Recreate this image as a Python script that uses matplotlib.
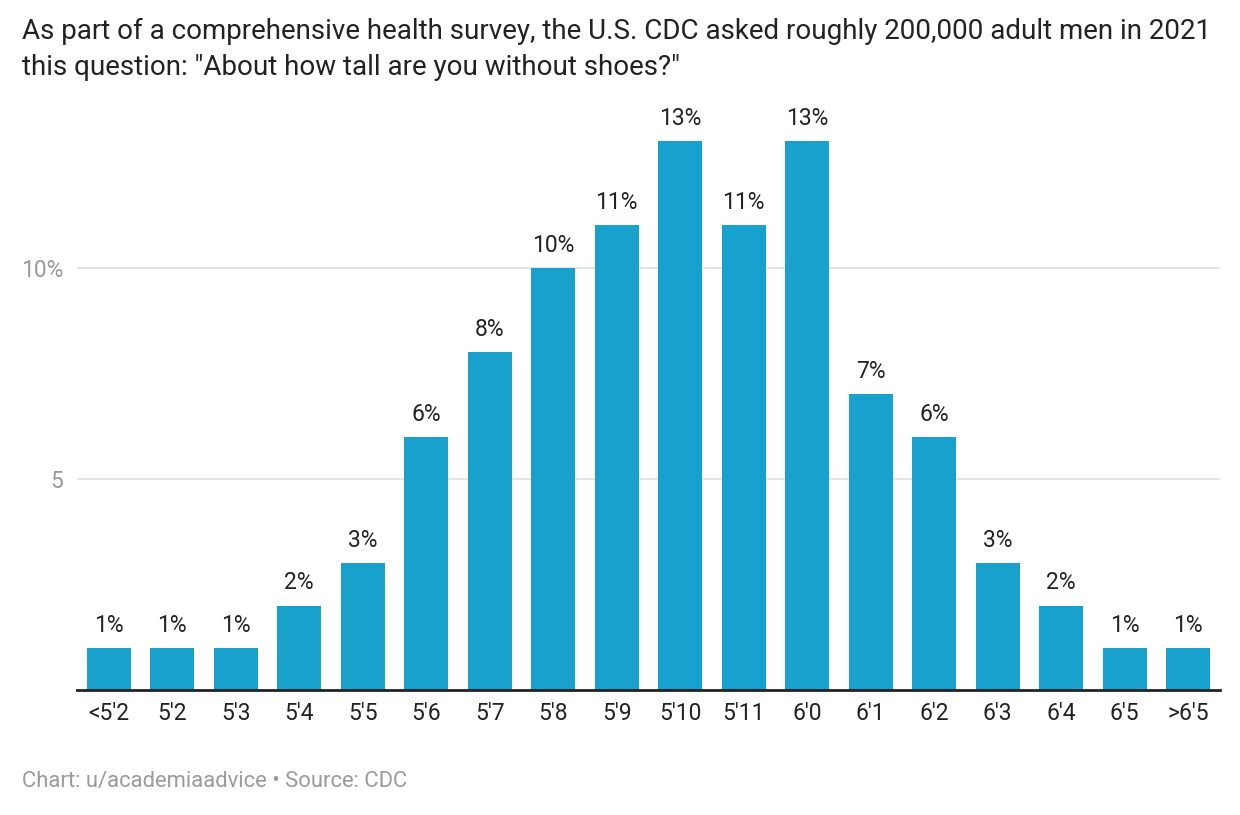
import matplotlib; matplotlib.use("Agg")
import matplotlib.pyplot as plt
import numpy as np

heights=["<5'2","5'2","5'3","5'4","5'5","5'6","5'7","5'8","5'9","5'10","5'11","6'0","6'1","6'2","6'3","6'4","6'5",">6'5"]
share=[1,1,1,2,3,6,8,10,11,13,11,13,7,6,3,2,1,1]
yticks=[5,10]; ytick_labels=["5","10%"]

plt.rcParams["font.family"]=["Roboto","DejaVu Sans"]
BLUE="#19a1cd"; GREY="#9a9a9a"

fig=plt.figure(figsize=(12.4,8.15),dpi=100)
ax=fig.add_axes([77/1240,125/815,1143/1240,587/815])
x=np.arange(len(heights))
ax.bar(x,share,0.7,color=BLUE,zorder=3)
for xi,v in zip(x,share):
    ax.annotate(f"{v}%",(xi,v),textcoords="offset points",xytext=(0,8),ha="center",va="bottom",fontsize=16.5,color="#222222")
ax.set_xlim(-0.5,len(heights)-0.5); ax.set_ylim(0,13.9)
ax.set_xticks(x); ax.set_xticklabels(heights,fontsize=16.5,color="#222222")
ax.set_yticks(yticks); ax.set_yticklabels(ytick_labels,fontsize=16.5,color=GREY)
ax.tick_params(axis="both",length=0); ax.tick_params(axis="y",pad=10); ax.tick_params(axis="x",pad=9)
ax.grid(axis="y",color="#e3e3e3",lw=1.3,zorder=0)
for s in ["top","right","left"]: ax.spines[s].set_visible(False)
ax.spines["bottom"].set_color("#222222"); ax.spines["bottom"].set_linewidth(2); ax.spines["bottom"].set_zorder(4)
fig.text(22/1240,1-18/815,'As part of a comprehensive health survey, the U.S. CDC asked roughly 200,000 adult men in 2021\nthis question: "About how tall are you without shoes?"',
         ha="left",va="top",fontsize=20,color="#222222",linespacing=1.42)
fig.text(22/1240,1-781/815,"Chart: u/academiaadvice \u2022 Source: CDC",ha="left",va="center",fontsize=15.8,color=GREY)
fig.savefig("out.png",dpi=100)
